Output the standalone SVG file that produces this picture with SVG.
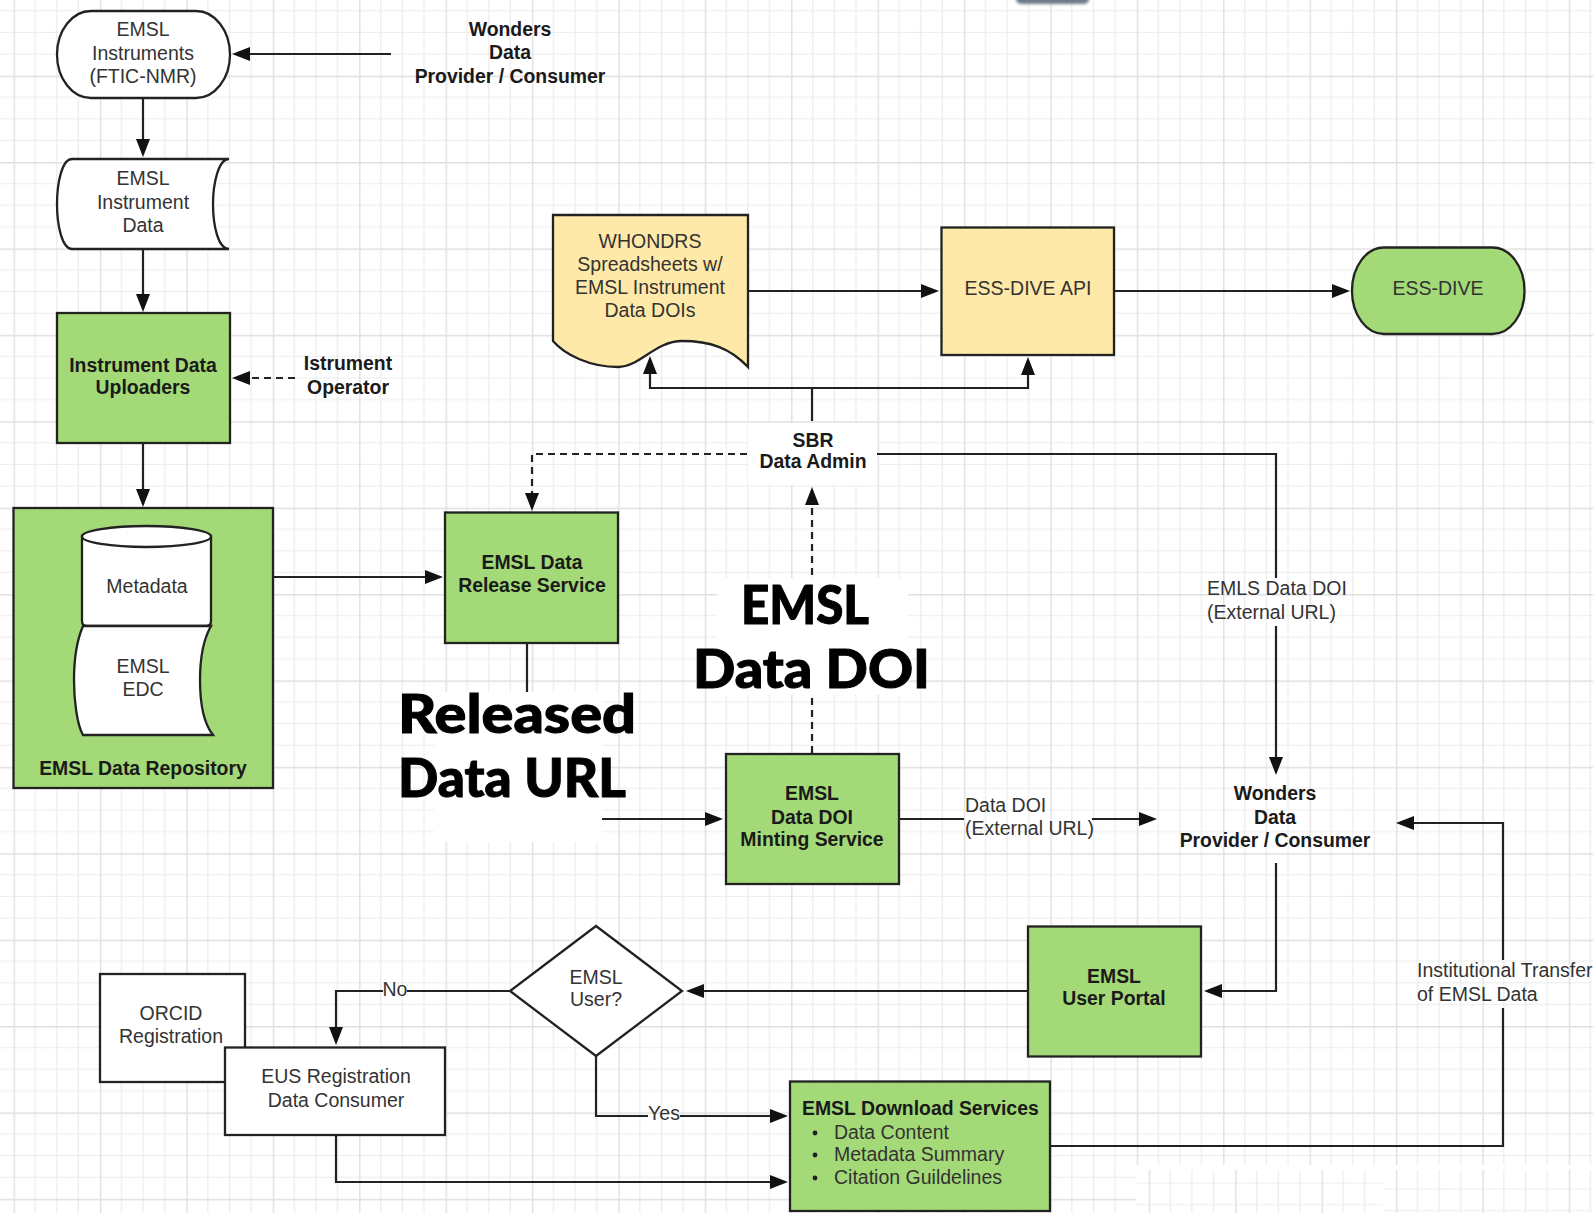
<svg xmlns="http://www.w3.org/2000/svg" width="1593" height="1213" viewBox="0 0 1593 1213">
<style>
.n{stroke:#222;stroke-width:2.3}
.w{fill:#fff}.g{fill:#a3d977}.y{fill:#fee9a8}
text{font-family:"Liberation Sans",Arial,sans-serif;font-size:19.500px;fill:#333;text-anchor:middle}
text.b{font-weight:700;fill:#1a1a1a;font-size:19.400px}
text.l{text-anchor:start}
text.big{font-family:Lato,"Liberation Sans",sans-serif;font-weight:900;font-size:53px;fill:#000;stroke:#000;stroke-width:1}
.c{fill:none;stroke:#222;stroke-width:2.2}
.d{stroke-dasharray:7 5}
.a{marker-end:url(#arrow)}
</style>
<defs>
<marker id="arrow" markerUnits="userSpaceOnUse" markerWidth="18" markerHeight="14" refX="12" refY="7" orient="auto"><path d="M0,0L18,7L0,14Z" fill="#111"/></marker>
<pattern id="grid" patternUnits="userSpaceOnUse" x="13.5" y="75.6" width="86.4" height="86.4">
<path d="M21.6,0V86.4M43.2,0V86.4M64.8,0V86.4M0,21.6H86.4M0,43.2H86.4M0,64.8H86.4" stroke="#ececec" stroke-width="1.2" fill="none"/>
<path d="M0.7,0V86.4M0,0.7H86.4" stroke="#e0e0e0" stroke-width="1.5" fill="none"/>
</pattern>
<pattern id="gridA" patternUnits="userSpaceOnUse" x="25.5" y="1139.8" width="86.4" height="86.4">
<path d="M21.6,0V86.4M43.2,0V86.4M64.8,0V86.4M0,21.6H86.4M0,43.2H86.4M0,64.8H86.4" stroke="#ececec" stroke-width="1.2" fill="none"/>
<path d="M0.7,0V86.4M0,0.7H86.4" stroke="#e0e0e0" stroke-width="1.5" fill="none"/>
</pattern>
<pattern id="gridB" patternUnits="userSpaceOnUse" x="13.5" y="1145.8" width="86.4" height="86.4">
<path d="M21.6,0V86.4M43.2,0V86.4M64.8,0V86.4M0,21.6H86.4M0,43.2H86.4M0,64.8H86.4" stroke="#ececec" stroke-width="1.2" fill="none"/>
<path d="M0.7,0V86.4M0,0.7H86.4" stroke="#e0e0e0" stroke-width="1.5" fill="none"/>
</pattern>
<filter id="soft" x="-20%" y="-100%" width="140%" height="300%"><feGaussianBlur stdDeviation="1.5"/></filter>
</defs>
<g id="background">
<rect width="1593" height="1213" fill="#fff"/>
<rect width="1593" height="1213" fill="url(#grid)"/>
<rect x="1136" y="1165" width="247" height="48" fill="#fff"/><rect x="1136" y="1170" width="247" height="43" fill="url(#gridA)"/>
<rect x="1383" y="1165" width="210" height="48" fill="#fff"/><rect x="1383" y="1170" width="210" height="43" fill="url(#gridB)"/>
<rect x="1016" y="-8" width="73" height="12" rx="5" fill="#6d7a88" filter="url(#soft)"/>
<rect x="434" y="692" width="168" height="150" fill="#fff"/>
<rect x="717" y="578" width="191" height="117" fill="#fff"/>
<rect x="748" y="423" width="129" height="62" fill="#fff"/>
</g>
<g id="connectors">
<path class="c a" d="M391,54H238"/>
<path class="c a" d="M143,98V151"/>
<path class="c a" d="M143,249V306"/>
<path class="c d a" d="M295,378H238"/>
<path class="c a" d="M143,443V501"/>
<path class="c a" d="M273,577H437"/>
<path class="c d a" d="M747,454H532V505"/>
<path class="c" d="M527,643V692"/>
<path class="c a" d="M602,819H717"/>
<path class="c" d="M899,819H964"/>
<path class="c a" d="M1092,819H1151"/>
<path class="c d" d="M812,753V695"/>
<path class="c d a" d="M812,575V493"/>
<path class="c" d="M877,454H1276V578"/>
<path class="c a" d="M1276,626V769"/>
<path class="c a" d="M1276,863V991H1210"/>
<path class="c a" d="M1028,991H692"/>
<path class="c a" d="M510,991H407M383,991H336V1039"/>
<path class="c" d="M596,1056V1116H648"/>
<path class="c a" d="M680,1116H782"/>
<path class="c a" d="M336,1135V1182H782"/>
<path class="c" d="M1050,1146H1503V1008"/>
<path class="c a" d="M1503,960V823H1402"/>
<path class="c a" d="M748,291H933"/>
<path class="c a" d="M1114,291H1344"/>
<path class="c" d="M812,421V388"/>
<path class="c a" d="M812,388H650V362"/>
<path class="c a" d="M812,388H1028V363"/>
</g>
<g id="emsl-instruments"><rect class="n w" x="57" y="11" width="173" height="87" rx="34" ry="43.5"/>
<text x="143" y="36">EMSL</text><text x="143" y="60">Instruments</text><text x="143" y="83">(FTIC-NMR)</text></g>
<g id="wonders-top"><text class="b" x="510" y="36">Wonders</text><text class="b" x="510" y="59">Data</text><text class="b" x="510" y="83">Provider / Consumer</text></g>
<g id="instrument-data"><path class="n w" d="M72,159H229C218,159 213,185 213,204C213,225 218,249 229,249H72C62,249 57,225 57,204C57,183 62,159 72,159Z"/>
<text x="143" y="185">EMSL</text><text x="143" y="209">Instrument</text><text x="143" y="232">Data</text></g>
<g id="uploaders"><rect class="n g" x="57" y="313" width="173" height="130"/>
<text class="b" x="143" y="372">Instrument Data</text><text class="b" x="143" y="394">Uploaders</text></g>
<g id="operator"><text class="b" x="348" y="370">Istrument</text><text class="b" x="348" y="394">Operator</text></g>
<g id="repository"><rect class="n g" x="13.500" y="508" width="259.500" height="280"/>
<path class="n w" d="M82,536V621Q82,626 87,626H206Q211,626 211,621V536Z"/><ellipse class="n w" cx="146.500" cy="536.500" rx="64.500" ry="10.500"/>
<text x="147" y="593">Metadata</text>
<path class="n w" d="M83,626H211C203,640 200,660 200,680C200,705 205,725 213,735H83C77,725 74,700 74,680C74,655 77,640 83,626Z"/>
<text x="143" y="673">EMSL</text><text x="143" y="696">EDC</text>
<text class="b" x="143" y="775">EMSL Data Repository</text></g>
<g id="release-service"><rect class="n g" x="445" y="512.500" width="173" height="130.500"/>
<text class="b" x="532" y="569">EMSL Data</text><text class="b" x="532" y="592">Release Service</text></g>
<g id="released-label"><text class="big l" x="398" y="733" textLength="238" lengthAdjust="spacingAndGlyphs">Released</text><text class="big l" x="398" y="797" textLength="228" lengthAdjust="spacingAndGlyphs">Data URL</text></g>
<g id="doi-label"><text class="big l" x="741" y="624" textLength="128" lengthAdjust="spacingAndGlyphs">EMSL</text><text class="big l" x="693" y="688" textLength="237" lengthAdjust="spacingAndGlyphs">Data DOI</text></g>
<g id="whondrs"><path class="n y" d="M553,215H748V367C730,348 710,341 682,341C655,341 640,367 618,367C590,367 565,355 553,341Z"/>
<text x="650" y="248">WHONDRS</text><text x="650" y="271">Spreadsheets w/</text><text x="650" y="294">EMSL Instrument</text><text x="650" y="317">Data DOIs</text></g>
<g id="ess-dive-api"><rect class="n y" x="941.500" y="227.500" width="172.500" height="127.500"/><text x="1028" y="295">ESS-DIVE API</text></g>
<g id="ess-dive"><rect class="n g" x="1352" y="247.500" width="172.500" height="86.500" rx="32" ry="43"/><text x="1438" y="295">ESS-DIVE</text></g>
<g id="sbr"><text class="b" x="813" y="447">SBR</text><text class="b" x="813" y="468">Data Admin</text></g>
<g id="emls-label"><text class="l" x="1207" y="595">EMLS Data DOI</text><text class="l" x="1207" y="619">(External URL)</text></g>
<g id="minting"><rect class="n g" x="726" y="754" width="173" height="130"/>
<text class="b" x="812" y="800">EMSL</text><text class="b" x="812" y="824">Data DOI</text><text class="b" x="812" y="846">Minting Service</text></g>
<g id="doi-url-label"><text class="l" x="965" y="812">Data DOI</text><text class="l" x="965" y="835">(External URL)</text></g>
<g id="wonders"><text class="b" x="1275" y="800">Wonders</text><text class="b" x="1275" y="824">Data</text><text class="b" x="1275" y="847">Provider / Consumer</text></g>
<g id="user-portal"><rect class="n g" x="1028" y="926.500" width="173" height="130"/>
<text class="b" x="1114" y="983">EMSL</text><text class="b" x="1114" y="1005">User Portal</text></g>
<g id="emsl-user"><path class="n w" d="M596,926L682,991L596,1056L510,991Z"/>
<text x="596" y="984">EMSL</text><text x="596" y="1006">User?</text></g>
<g id="no-label"><text x="395" y="996">No</text></g>
<g id="yes-label"><text x="664" y="1120">Yes</text></g>
<g id="orcid"><rect class="n w" x="100" y="974" width="145" height="108"/>
<text x="171" y="1020">ORCID</text><text x="171" y="1043">Registration</text></g>
<g id="eus"><rect class="n w" x="225" y="1047.500" width="220" height="87.500"/>
<text x="336" y="1083">EUS Registration</text><text x="336" y="1107">Data Consumer</text></g>
<g id="download"><rect class="n g" x="790" y="1081.500" width="260" height="129.500"/>
<text class="b l" x="802" y="1115">EMSL Download Services</text>
<circle cx="815" cy="1133" r="2.400" fill="#222"/><text class="l" x="834" y="1139">Data Content</text>
<circle cx="815" cy="1155" r="2.400" fill="#222"/><text class="l" x="834" y="1161">Metadata Summary</text>
<circle cx="815" cy="1178" r="2.400" fill="#222"/><text class="l" x="834" y="1184">Citation Guildelines</text></g>
<g id="transfer-label"><text class="l" x="1417" y="977">Institutional Transfer</text><text class="l" x="1417" y="1001">of EMSL Data</text></g>
</svg>
